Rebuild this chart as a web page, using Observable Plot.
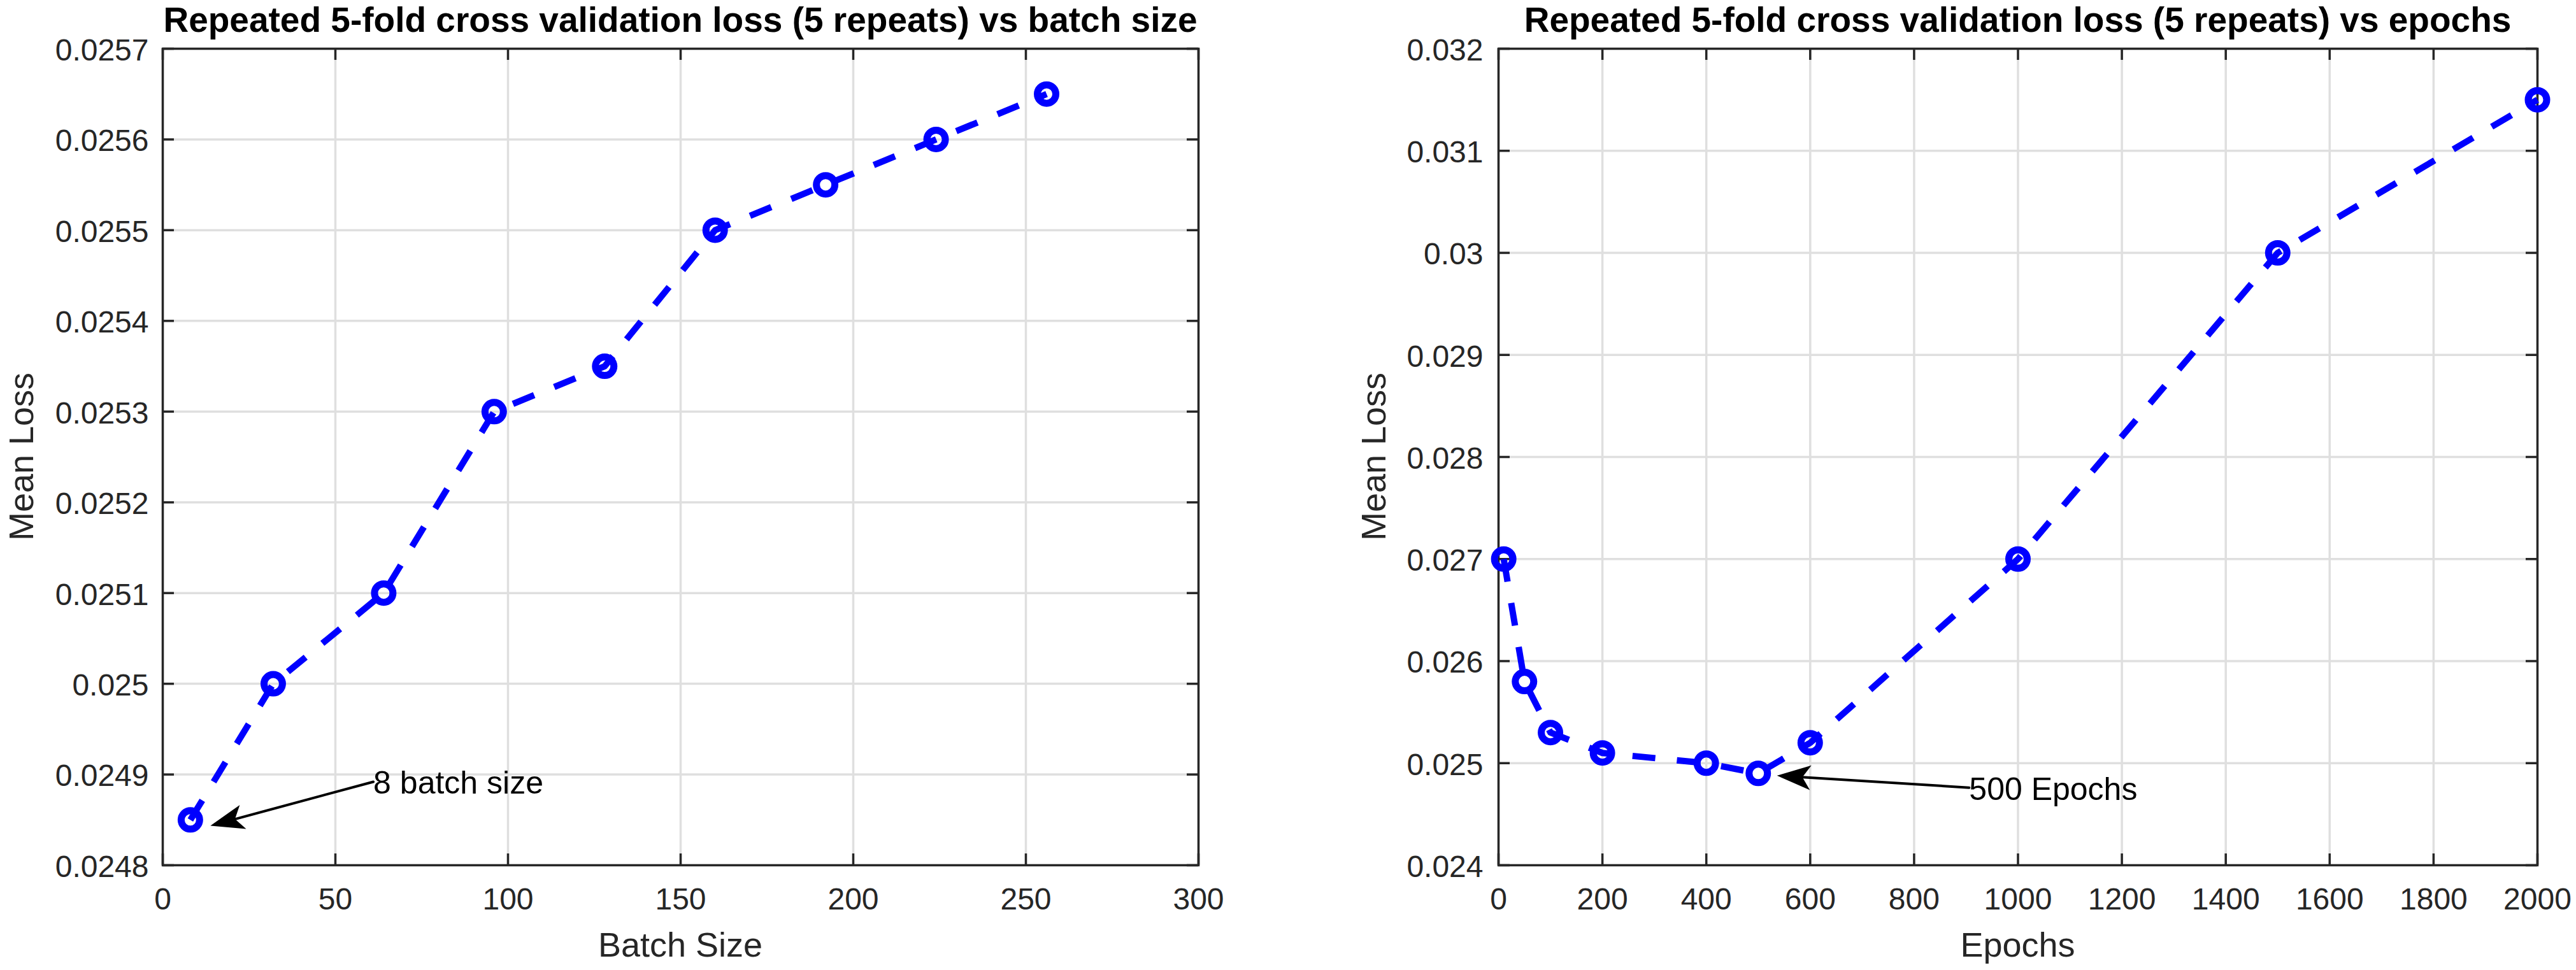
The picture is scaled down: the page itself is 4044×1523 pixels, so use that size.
<!DOCTYPE html>
<html>
<head>
<meta charset="utf-8">
<script src="https://cdn.jsdelivr.net/npm/d3@7"></script>
<script src="https://cdn.jsdelivr.net/npm/@observablehq/plot@0.6"></script>
<style>
  html, body { margin: 0; padding: 0; background: #fff; }
  #root { position: relative; width: 4044px; height: 1523px; overflow: hidden; background: #fff;
          font-family: "Liberation Sans", Arial, Helvetica, sans-serif; }
  .title { position: absolute; font-size: 55px; line-height: 55px; font-weight: bold; color: #000;
           text-align: center; white-space: nowrap; }
  .xlabel { position: absolute; font-size: 54px; line-height: 54px; color: #262626; text-align: center; white-space: nowrap; }
  .ylabel { position: absolute; font-size: 54px; line-height: 54px; height: 54px; color: #262626; text-align: center;
            white-space: nowrap; transform: rotate(-90deg); }
  .panel { position: absolute; top: 60px; }
  .panel svg { overflow: visible; }
</style>
</head>
<body>
<div id="root"></div>
<script>
// ---------- data ----------
const batchSizes = [8, 32, 64, 96, 128, 160, 192, 224, 256];
const batchLoss = [0.02485, 0.0250, 0.0251, 0.0253, 0.02535, 0.0255, 0.02555, 0.0256, 0.02565];
const batchXTicks = [0, 50, 100, 150, 200, 250, 300];
const batchYTicks = [0.0248, 0.0249, 0.025, 0.0251, 0.0252, 0.0253, 0.0254, 0.0255, 0.0256, 0.0257];
const batchTitle = "Repeated 5-fold cross validation loss (5 repeats) vs batch size";
const batchXLabel = "Batch Size";
const batchNoteText = ["8 batch size"];
const batchNoteFrom = [[61, 0.024892]];
const batchNoteTo = [[13.8, 0.0248435]];

const epochs = [10, 50, 100, 200, 400, 500, 600, 1000, 1500, 2000];
const epochLoss = [0.027, 0.0258, 0.0253, 0.0251, 0.0250, 0.0249, 0.0252, 0.027, 0.030, 0.0315];
const epochXTicks = [0, 200, 400, 600, 800, 1000, 1200, 1400, 1600, 1800, 2000];
const epochYTicks = [0.024, 0.025, 0.026, 0.027, 0.028, 0.029, 0.03, 0.031, 0.032];
const epochTitle = "Repeated 5-fold cross validation loss (5 repeats) vs epochs";
const epochXLabel = "Epochs";
const epochNoteText = ["500 Epochs"];
const epochNoteFrom = [[906, 0.02476]];
const epochNoteTo = [[536, 0.024878]];

const yLabel = "Mean Loss";

// ---------- drawing ----------
const root = document.getElementById("root");
const SVG_TOP = 60, SVG_H = 1463, M_TOP = 16, M_BOTTOM = 165;
const FONT = "'Liberation Sans', Arial, Helvetica, sans-serif";
const BLUE = "#0000ff", AXC = "#262626", GRID = "#dfdfdf";

const arrowHead = {
  draw(ctx) {
    ctx.moveTo(0, 0);
    ctx.lineTo(-53, -19.5);
    ctx.lineTo(-40, 0);
    ctx.lineTo(-53, 19.5);
    ctx.closePath();
  }
};

function panel(cfg) {
  const {left, width, ml, mr, xs, ys, xTicks, yTicks, title, xLabel, noteText, noteFrom, noteTo, tickPad, ylabelCx} = cfg;
  const xDom = [xTicks[0], xTicks[xTicks.length - 1]];
  const yDom = [yTicks[0], yTicks[yTicks.length - 1]];
  const fw = width - ml - mr;
  const fh = SVG_H - M_TOP - M_BOTTOM;
  const pts = xs.map((x, i) => ({x, y: ys[i]}));
  const notes = noteText.map((t, i) => {
    const [x1, y1] = noteFrom[i], [x2, y2] = noteTo[i];
    const dx = (x2 - x1) / (xDom[1] - xDom[0]) * fw;
    const dy = -(y2 - y1) / (yDom[1] - yDom[0]) * fh;
    return {text: t, x1, y1, x2, y2, angle: Math.atan2(dy, dx) * 180 / Math.PI};
  });
  const fmt = d => String(d);
  const chart = Plot.plot({
    width, height: SVG_H,
    marginLeft: ml, marginRight: mr, marginTop: M_TOP, marginBottom: M_BOTTOM,
    x: {domain: xDom, axis: null},
    y: {domain: yDom, axis: null},
    style: {fontFamily: FONT, fontSize: "48px", color: AXC, background: "transparent", overflow: "visible"},
    marks: [
      Plot.ruleX(xTicks, {stroke: GRID, strokeWidth: 3.5}),
      Plot.ruleY(yTicks, {stroke: GRID, strokeWidth: 3.5}),
      Plot.ruleY(yTicks, {stroke: AXC, strokeWidth: 3.5, insetRight: fw - 18}),
      Plot.ruleY(yTicks, {stroke: AXC, strokeWidth: 3.5, insetLeft: fw - 18}),
      Plot.ruleX(xTicks, {stroke: AXC, strokeWidth: 3.5, insetTop: fh - 18}),
      Plot.ruleX(xTicks, {stroke: AXC, strokeWidth: 3.5, insetBottom: fh - 18}),
      Plot.frame({stroke: AXC, strokeWidth: 3.5}),
      Plot.axisX({ticks: xTicks, tickSize: 0, tickPadding: 35, fontSize: 48, tickFormat: fmt, label: null, fill: AXC}),
      Plot.axisY({ticks: yTicks, tickSize: 0, tickPadding: tickPad, fontSize: 48, tickFormat: fmt, label: null, fill: AXC, dy: 3}),
      Plot.line(pts, {x: "x", y: "y", stroke: BLUE, strokeWidth: 10, strokeDasharray: "36,34",
                      strokeLinecap: "butt", strokeLinejoin: "round"}),
      Plot.dot(pts, {x: "x", y: "y", r: 14.5, stroke: BLUE, strokeWidth: 11, fill: "none"}),
      Plot.arrow(notes, {x1: "x1", y1: "y1", x2: "x2", y2: "y2", stroke: "#000", strokeWidth: 4,
                         headLength: 0, insetEnd: 40}),
      Plot.dot(notes, {x: "x2", y: "y2", symbol: arrowHead, r: 10, fill: "#000", stroke: "none",
                       rotate: d => d.angle}),
      Plot.text(notes, {x: "x1", y: "y1", text: "text", textAnchor: "start", fontSize: 50, fill: "#000", dy: 3})
    ]
  });
  const wrap = document.createElement("div");
  wrap.className = "panel";
  wrap.style.left = left + "px";
  wrap.appendChild(chart);
  root.appendChild(wrap);

  const fl = left + ml, fc = fl + fw / 2;
  const t = document.createElement("div");
  t.className = "title";
  t.textContent = title;
  t.style.left = (fc - 1200) + "px"; t.style.width = "2400px"; t.style.top = "4px";
  root.appendChild(t);

  const xl = document.createElement("div");
  xl.className = "xlabel";
  xl.textContent = xLabel;
  xl.style.left = (fc - 400) + "px"; xl.style.width = "800px"; xl.style.top = "1456px";
  root.appendChild(xl);

  const yl = document.createElement("div");
  yl.className = "ylabel";
  yl.textContent = yLabel;
  const cy = SVG_TOP + M_TOP + fh / 2;
  yl.style.left = (ylabelCx - 300) + "px"; yl.style.width = "600px"; yl.style.top = (cy - 27) + "px";
  root.appendChild(yl);
}

panel({left: 0, width: 2000, ml: 255, mr: 119, xs: batchSizes, ys: batchLoss,
       xTicks: batchXTicks, yTicks: batchYTicks, title: batchTitle, xLabel: batchXLabel,
       noteText: batchNoteText, noteFrom: batchNoteFrom, noteTo: batchNoteTo, tickPad: 22, ylabelCx: 33});
panel({left: 2022, width: 2022, ml: 330, mr: 61, xs: epochs, ys: epochLoss,
       xTicks: epochXTicks, yTicks: epochYTicks, title: epochTitle, xLabel: epochXLabel,
       noteText: epochNoteText, noteFrom: epochNoteFrom, noteTo: epochNoteTo, tickPad: 24, ylabelCx: 2156});
</script>
</body>
</html>
